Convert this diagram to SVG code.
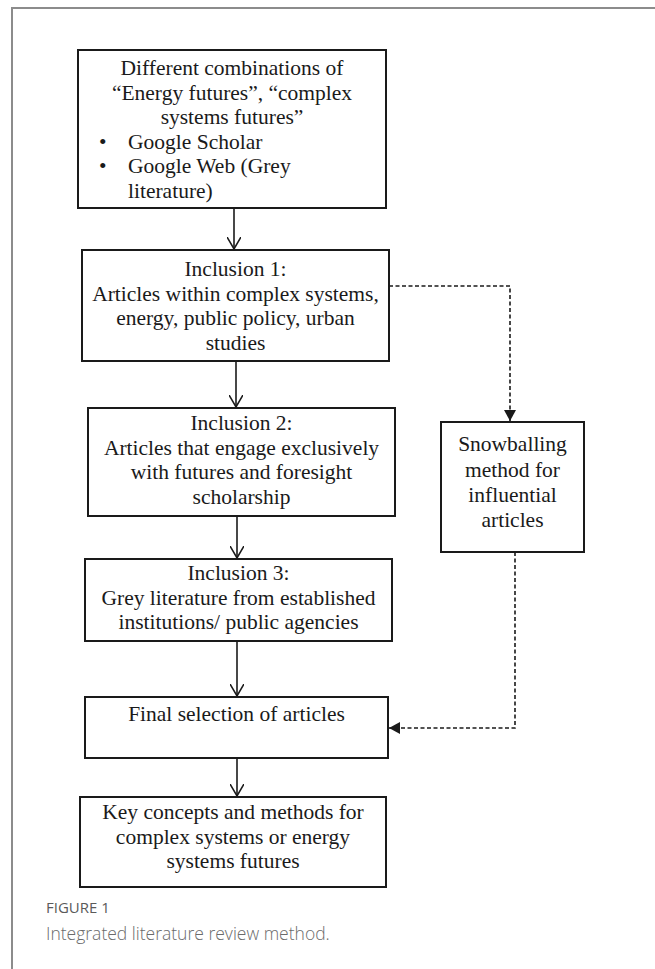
<svg xmlns="http://www.w3.org/2000/svg" width="655" height="969" viewBox="0 0 655 969">
  <style>
    .frame { fill: none; stroke: #8c8c8c; stroke-width: 2; }
    .box { fill: #ffffff; stroke: #1a1a1a; stroke-width: 2; }
    .t { font-family: "Liberation Serif", "Times New Roman", serif; font-size: 21.5px; fill: #1a1a1a; }
    .c { text-anchor: middle; }
    .flow { fill: none; stroke: #1a1a1a; stroke-width: 1.6; }
    .dash { fill: none; stroke: #1a1a1a; stroke-width: 1.6; stroke-dasharray: 4 2.5; }
    .cap-h { font-family: "Open Sans", "Liberation Sans", sans-serif; font-size: 15px; fill: #5a5a5a; }
    .cap { font-family: "Open Sans", "Liberation Sans", sans-serif; font-size: 17.5px; fill: #6b6b6b; font-weight: 300; }
  </style>
  <defs>
    <marker id="open" markerWidth="14" markerHeight="14" refX="12" refY="7" orient="auto" markerUnits="userSpaceOnUse">
      <path d="M0,0 L12,7 L0,14" fill="none" stroke="#1a1a1a" stroke-width="1.6"/>
    </marker>
    <marker id="solid" markerWidth="12" markerHeight="12" refX="11" refY="6" orient="auto" markerUnits="userSpaceOnUse">
      <path d="M0,0 L11,6 L0,12 Z" fill="#1a1a1a"/>
    </marker>
  </defs>

  <rect width="655" height="969" fill="#ffffff"/>
  <path class="frame" d="M12,969 L12,8 L655,8"/>

  <g id="search">
    <rect class="box" x="78" y="50" width="308" height="158"/>
    <text class="t c" x="232" y="75">Different combinations of</text>
    <text class="t c" x="232" y="99.5">“Energy futures”, “complex</text>
    <text class="t c" x="232" y="124">systems futures”</text>
    <text class="t" x="99" y="148.5">•</text>
    <text class="t" x="128" y="148.5">Google Scholar</text>
    <text class="t" x="99" y="173">•</text>
    <text class="t" x="128" y="173">Google Web (Grey</text>
    <text class="t" x="128" y="197.5">literature)</text>
  </g>

  <g id="inclusion1">
    <rect class="box" x="82" y="250" width="307" height="111"/>
    <text class="t c" x="235.5" y="276">Inclusion 1:</text>
    <text class="t c" x="235.5" y="300.5">Articles within complex systems,</text>
    <text class="t c" x="235.5" y="325">energy, public policy, urban</text>
    <text class="t c" x="235.5" y="349.5">studies</text>
  </g>

  <g id="inclusion2">
    <rect class="box" x="88" y="408" width="307" height="108"/>
    <text class="t c" x="241.5" y="430">Inclusion 2:</text>
    <text class="t c" x="241.5" y="455">Articles that engage exclusively</text>
    <text class="t c" x="241.5" y="479">with futures and foresight</text>
    <text class="t c" x="241.5" y="504">scholarship</text>
  </g>

  <g id="inclusion3">
    <rect class="box" x="85" y="559" width="307" height="82"/>
    <text class="t c" x="238.5" y="580">Inclusion 3:</text>
    <text class="t c" x="238.5" y="604.5">Grey literature from established</text>
    <text class="t c" x="238.5" y="628.5">institutions/ public agencies</text>
  </g>

  <g id="snowballing">
    <rect class="box" x="441" y="422" width="143" height="130"/>
    <text class="t c" x="512.5" y="451">Snowballing</text>
    <text class="t c" x="512.5" y="477">method for</text>
    <text class="t c" x="512.5" y="502">influential</text>
    <text class="t c" x="512.5" y="527">articles</text>
  </g>

  <g id="final-selection">
    <rect class="box" x="85" y="697" width="303" height="61"/>
    <text class="t c" x="236.5" y="721">Final selection of articles</text>
  </g>

  <g id="key-concepts">
    <rect class="box" x="80" y="797" width="306" height="90"/>
    <text class="t c" x="233" y="819">Key concepts and methods for</text>
    <text class="t c" x="233" y="843.5">complex systems or energy</text>
    <text class="t c" x="233" y="868">systems futures</text>
  </g>

  <g id="connectors">
    <line class="flow" x1="234" y1="208" x2="234" y2="249" marker-end="url(#open)"/>
    <line class="flow" x1="236" y1="361" x2="236" y2="407" marker-end="url(#open)"/>
    <line class="flow" x1="237" y1="516" x2="237" y2="558" marker-end="url(#open)"/>
    <line class="flow" x1="237" y1="641" x2="237" y2="696" marker-end="url(#open)"/>
    <line class="flow" x1="237" y1="758" x2="237" y2="796" marker-end="url(#open)"/>
    <path class="dash" d="M389,286 L510,286 L510,421" marker-end="url(#solid)"/>
    <path class="dash" d="M515,552 L515,728 L389,728" marker-end="url(#solid)"/>
  </g>

  <g id="caption">
    <text class="cap-h" x="46" y="913">FIGURE 1</text>
    <text class="cap" x="46" y="940">Integrated literature review method.</text>
  </g>
</svg>
